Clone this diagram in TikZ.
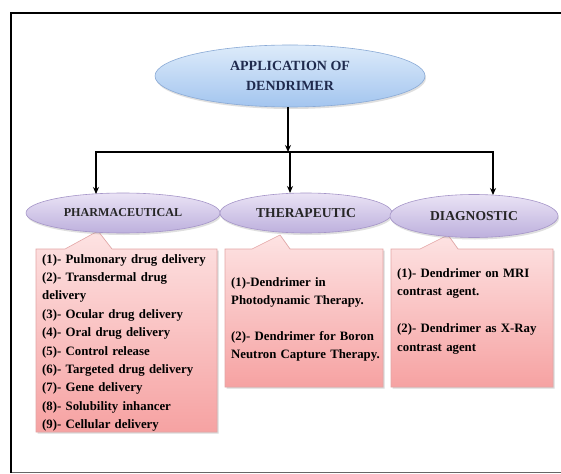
\documentclass[tikz,border=0pt]{standalone}
\usepackage{fontspec}
\setmainfont{Liberation Serif}
\usetikzlibrary{shapes.geometric,arrows.meta,shadows}
\definecolor{topA}{HTML}{DDEBFA}
\definecolor{topB}{HTML}{A3C5EF}
\definecolor{topE}{HTML}{8AAAD6}
\definecolor{lavA}{HTML}{EAE3F5}
\definecolor{lavB}{HTML}{BDB0DD}
\definecolor{lavE}{HTML}{A595C8}
\definecolor{pinkA}{HTML}{FDE3E3}
\definecolor{pinkB}{HTML}{F6A2A2}
\definecolor{pinkE}{HTML}{E3A5A5}
\definecolor{navy}{HTML}{1F2A4D}
\tikzset{
  oval/.style={ellipse, inner sep=0pt, draw=lavE, line width=0.6pt,
    top color=lavA, bottom color=lavB, font=\bfseries\fontsize{13.6}{15}\selectfont, text=black!85,
    drop shadow={shadow xshift=1pt, shadow yshift=-2pt, opacity=0.25}},
  callout/.style={draw=pinkE, line width=0.6pt, top color=pinkA, bottom color=pinkB,
    drop shadow={shadow xshift=1.5pt, shadow yshift=-1.5pt, opacity=0.3}},
  body/.style={anchor=north west, inner sep=0pt, align=left, text width=180pt,
    font=\bfseries\fontsize{12.8}{18.4}\selectfont},
  arr/.style={line width=1.6pt, -{Stealth[length=7pt,width=6pt]}},
  plain/.style={line width=1.6pt}
}
\begin{document}
\begin{tikzpicture}[x=1pt,y=-1pt]
\useasboundingbox (0,0) rectangle (561,473);
\fill[white] (0,0) rectangle (561,473);
% frame
\draw[black!60, line width=0.8pt] (11,472) -- (561,472);
\draw[line width=2.6pt] (561,13) -- (11,13) -- (11,473);

% callout boxes
\path[callout] (36,249) -- (65,249) -- (98,231) -- (112,249) -- (217,249) -- (217,432) -- (36,432) -- cycle;
\path[callout] (225,249) -- (252,249) -- (280,235) -- (290,249) -- (383,249) -- (383,387) -- (225,387) -- cycle;
\path[callout] (391,249) -- (420,249) -- (448,235) -- (458,249) -- (553,249) -- (553,387) -- (391,387) -- cycle;

% ellipses
\node[oval, draw=topE, top color=topA, bottom color=topB, minimum width=270pt, minimum height=62pt,
  align=center, text=navy, font=\bfseries\fontsize{14}{20}\selectfont] (top) at (290,76)
  {APPLICATION OF\\DENDRIMER};
\node[oval, minimum width=194pt, minimum height=40pt, font=\bfseries\fontsize{12.1}{14}\selectfont] (ph) at (123,213) {PHARMACEUTICAL};
\node[oval, minimum width=172pt, minimum height=40pt] (th) at (306,213) {THERAPEUTIC};
\node[oval, minimum width=168pt, minimum height=43pt] (dg) at (474,216) {DIAGNOSTIC};

% connectors
\coordinate (jn) at (288,152);
\coordinate (pa) at (96,194);
\coordinate (ta) at (290,193);
\coordinate (da) at (493,195);
\draw[arr] (top.south -| jn) -- (jn);
\draw[arr] (jn) -| (pa);
\draw[arr] (jn) -| (ta);
\draw[arr] (jn) -| (da);

% texts
\node[body] (phT) at (42,254) {(1)- Pulmonary drug delivery\\(2)- Transdermal drug\\delivery\\(3)- Ocular drug delivery\\(4)- Oral drug delivery\\(5)- Control release\\(6)- Targeted drug delivery\\(7)- Gene delivery\\(8)- Solubility inhancer\\(9)- Cellular delivery};
\node[body, font=\bfseries\fontsize{12.8}{18.2}\selectfont] (thT) at (231,277) {(1)-Dendrimer in\\Photodynamic Therapy.\\[18.2pt](2)- Dendrimer for Boron\\Neutron Capture Therapy.};
\node[body, font=\bfseries\fontsize{12.8}{18.6}\selectfont] (dgT) at (397,268) {(1)- Dendrimer on MRI\\contrast agent.\\[18.6pt](2)- Dendrimer as X-Ray\\contrast agent};
\end{tikzpicture}
\end{document}
